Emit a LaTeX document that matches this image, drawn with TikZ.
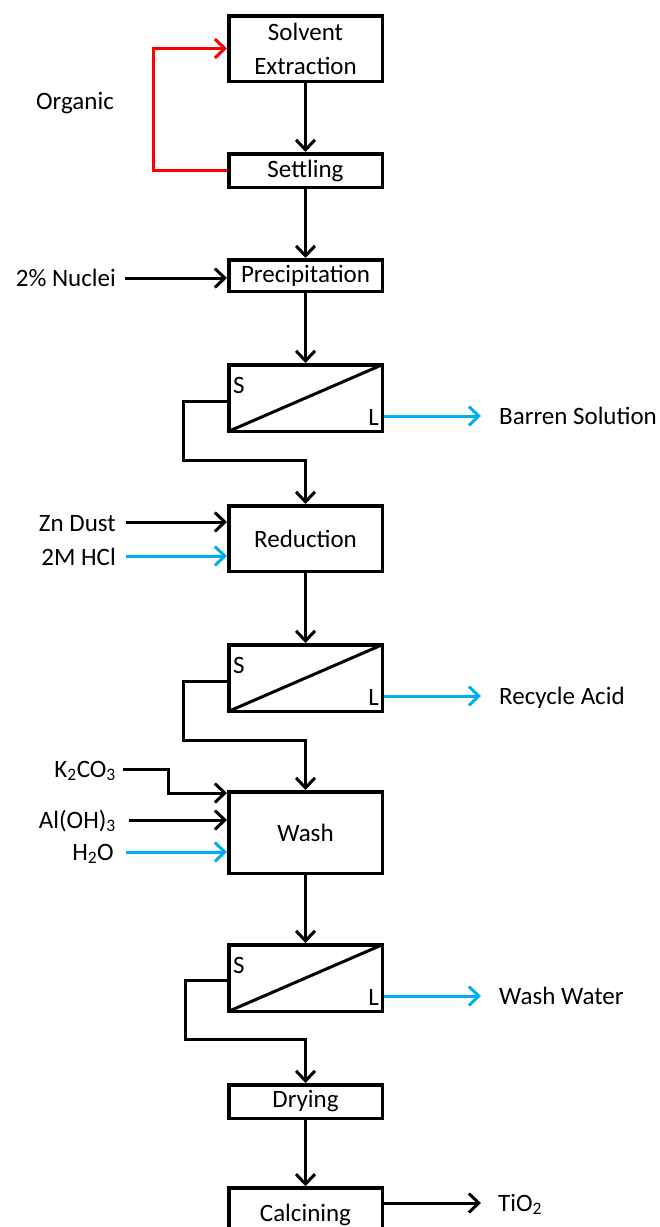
\documentclass[tikz,border=0pt]{standalone}
\usepackage{fontspec}
\setmainfont{Carlito}
\usetikzlibrary{arrows.meta}
\definecolor{flowblue}{RGB}{0,176,240}
\definecolor{flowred}{RGB}{255,0,0}
\begin{document}
\begin{tikzpicture}[x=1pt,y=-1pt,
  box/.style={draw,line width=3.5pt,minimum width=153.5pt,inner sep=0pt,align=center,
    font=\fontsize{25}{34}\selectfont},
  lbl/.style={inner sep=0pt,font=\fontsize{25}{30}\selectfont},
  flow/.style={line width=3pt,-{Straight Barb[length=10pt,width=19pt]}},
  diag/.style={line width=3pt},
]
\useasboundingbox (0,0) rectangle (660,1227);

% process boxes
\node[box,minimum height=65.5pt] (se) at (305.5,48.5) {Solvent\\Extraction};
\node[box,minimum height=33.5pt] (settle) at (305.5,170.5) {Settling};
\node[box,minimum height=31.5pt] (precip) at (305.5,275.5) {Precipitation};
\node[box,minimum height=66.5pt] (f1) at (305.5,398) {};
\node[box,minimum height=65.5pt] (red) at (305.5,538.5) {Reduction};
\node[box,minimum height=66.5pt] (f2) at (305.5,678) {};
\node[box,minimum height=81.5pt] (wash) at (305.5,832.5) {Wash};
\node[box,minimum height=66.5pt] (f3) at (305.5,978) {};
\node[box,minimum height=33.5pt] (dry) at (305.5,1101.5) {Drying};
\node[box,minimum height=54pt] (calc) at (305.5,1215) {Calcining};

% filter diagonals and S/L labels
\foreach \f in {f1,f2,f3}{
  \draw[diag] ([xshift=1.75pt,yshift=1.75pt]\f.south west) -- ([xshift=-1.75pt,yshift=-1.75pt]\f.north east);
  \node[lbl,anchor=north west] (\f s) at ([xshift=6pt,yshift=-14pt]\f.north west) {S};
  \node[lbl,anchor=south east] (\f l) at ([xshift=-5pt,yshift=7pt]\f.south east) {L};
}

% main vertical flow
\draw[flow] (se.south) -- (settle.north);
\draw[flow] (settle.south) -- (precip.north);
\draw[flow] (precip.south) -- (f1.north);
\draw[flow] (red.south) -- (f2.north);
\draw[flow] (wash.south) -- (f3.north);
\draw[flow] (dry.south) -- (calc.north);

% solids from filters
\draw[flow] ([yshift=-3pt]f1.west) -| ++(-44,59) -| (red.north);
\draw[flow] ([yshift=-3pt]f2.west) -| ++(-44,59) -| (wash.north);
\draw[flow] ([yshift=-2pt]f3.west) -| ++(-42,59) -| (dry.north);

% organic recycle
\node[lbl,anchor=base] (org) at (75,109) {Organic};
\draw[flow,flowred] (settle.west) -- ++(-74,0) |- (se.west);

% left inputs
\node[lbl,anchor=base east] (nuc) at (116,286) {2\% Nuclei};
\coordinate (nucS) at (125,278);
\draw[flow] (nucS) -- (nucS -| precip.west);

\node[lbl,anchor=base east] (zn) at (116,531) {Zn Dust};
\coordinate (znS) at (126,522);
\draw[flow] (znS) -- (znS -| red.west);

\node[lbl,anchor=base east] (hcl) at (116,565) {2M HCl};
\coordinate (hclS) at (126,556);
\draw[flow,flowblue] (hclS) -- (hclS -| red.west);

\node[lbl,anchor=base east] (k2) at (116,777) {K\textsubscript{2}CO\textsubscript{3}};
\coordinate (k2S) at (123,769);
\coordinate (k2B) at (168,793);
\draw[flow] (k2S) -| (k2B) -- (k2B -| wash.west);

\node[lbl,anchor=base east] (al) at (116,828) {Al(OH)\textsubscript{3}};
\coordinate (alS) at (129,820);
\draw[flow] (alS) -- (alS -| wash.west);

\node[lbl,anchor=base east] (h2o) at (114,860) {H\textsubscript{2}O};
\coordinate (h2oS) at (126,852);
\draw[flow,flowblue] (h2oS) -- (h2oS -| wash.west);

% right outputs
\node[lbl,anchor=base west] (barren) at (499,424) {Barren Solution};
\coordinate (barrenE) at (481,416);
\draw[flow,flowblue] (barrenE -| f1.east) -- (barrenE);

\node[lbl,anchor=base west] (recyc) at (499,704) {Recycle Acid};
\coordinate (recycE) at (481,696);
\draw[flow,flowblue] (recycE -| f2.east) -- (recycE);

\node[lbl,anchor=base west] (ww) at (499,1004) {Wash Water};
\coordinate (wwE) at (481,996);
\draw[flow,flowblue] (wwE -| f3.east) -- (wwE);

\node[lbl,anchor=base west] (tio) at (498,1211) {TiO\textsubscript{2}};
\coordinate (tioE) at (481,1203);
\draw[flow] (tioE -| calc.east) -- (tioE);
\end{tikzpicture}
\end{document}
